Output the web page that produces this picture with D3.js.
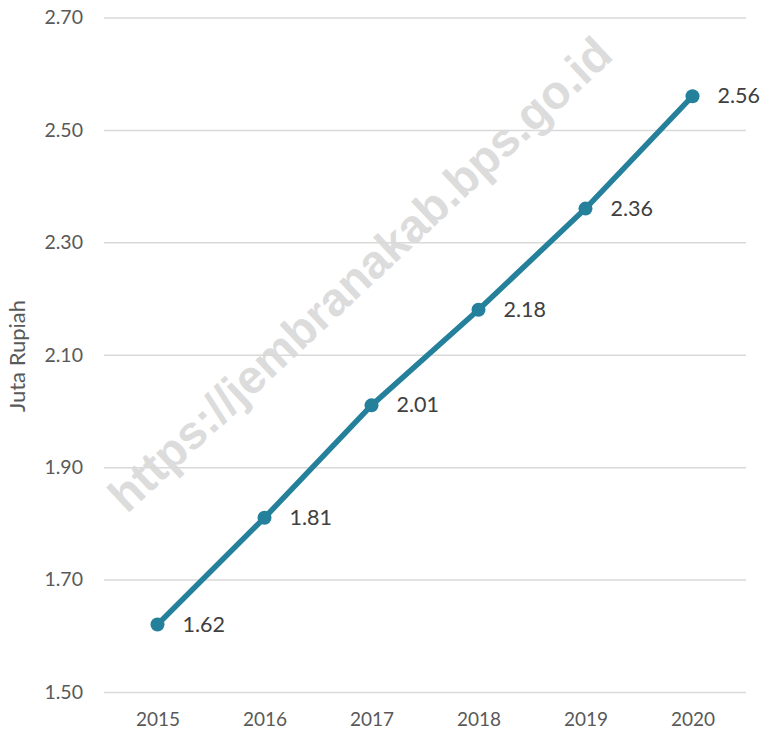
<!DOCTYPE html>
<html><head><meta charset="utf-8">
<script src="https://cdn.jsdelivr.net/npm/d3@7"></script>
<style>body{margin:0;background:#fff}</style>
</head><body>
<script>
const years = ["2015","2016","2017","2018","2019","2020"];
const values = [1.62, 1.81, 2.01, 2.18, 2.36, 2.56];
const yTicks = [1.50, 1.70, 1.90, 2.10, 2.30, 2.50, 2.70];
const yTitle = "Juta Rupiah";
const watermark = "https://jembranakab.bps.go.id";

const W = 768, H = 734;
const m = {left:104, right:22, top:17.5, bottom:42};
const svg = d3.select("body").append("svg").attr("width", W).attr("height", H);
const x = d3.scalePoint().domain(years).range([m.left, W - m.right]).padding(0.5);
const y = d3.scaleLinear().domain([1.5, 2.7]).range([H - m.bottom, m.top]);
const font = "Lato, 'Open Sans', sans-serif";

// watermark
svg.append("text")
  .attr("transform", "translate(371,286) rotate(-43.1)")
  .attr("text-anchor", "middle")
  .attr("font-family", "'Liberation Sans', Arial, sans-serif")
  .attr("font-weight", "bold")
  .attr("font-size", 47)
  .attr("fill", "#dcdcdc")
  .text(watermark);

// gridlines
const yAxis = d3.axisLeft(y).tickValues(yTicks).tickFormat(d3.format(".2f"))
  .tickSize(-(W - m.left - m.right)).tickPadding(21);
const gy = svg.append("g").attr("transform", `translate(${m.left},0)`).call(yAxis);
gy.select(".domain").remove();
gy.selectAll(".tick line").attr("stroke", "#d9d9d9").attr("stroke-width", 1.5);
gy.selectAll(".tick text").attr("font-family", font).attr("font-size", 19.5).attr("fill", "#595959");

const xAxis = d3.axisBottom(x).tickSize(0).tickPadding(21);
const gx = svg.append("g").attr("transform", `translate(0,${H - m.bottom})`).call(xAxis);
gx.select(".domain").remove();
gx.selectAll(".tick text").attr("font-family", font).attr("font-size", 19).attr("fill", "#595959");

svg.append("text")
  .attr("transform", `translate(25,${356}) rotate(-90)`)
  .attr("text-anchor", "middle")
  .attr("font-family", font).attr("font-size", 22).attr("fill", "#595959")
  .text(yTitle);

const color = "#24809b";
const data = years.map((yr, i) => ({yr, v: values[i]}));
svg.append("path").datum(data)
  .attr("fill", "none").attr("stroke", color).attr("stroke-width", 5.5).attr("stroke-linejoin", "round")
  .attr("d", d3.line().x(d => x(d.yr)).y(d => y(d.v)));
svg.selectAll("circle.pt").data(data).join("circle")
  .attr("cx", d => x(d.yr)).attr("cy", d => y(d.v)).attr("r", 7).attr("fill", color);
svg.selectAll("text.lbl").data(data).join("text")
  .attr("x", d => x(d.yr) + 25).attr("y", d => y(d.v)).attr("dy", "0.33em")
  .attr("font-family", font).attr("font-size", 21.5).attr("fill", "#404040")
  .text(d => d3.format(".2f")(d.v));
</script>
</body></html>
